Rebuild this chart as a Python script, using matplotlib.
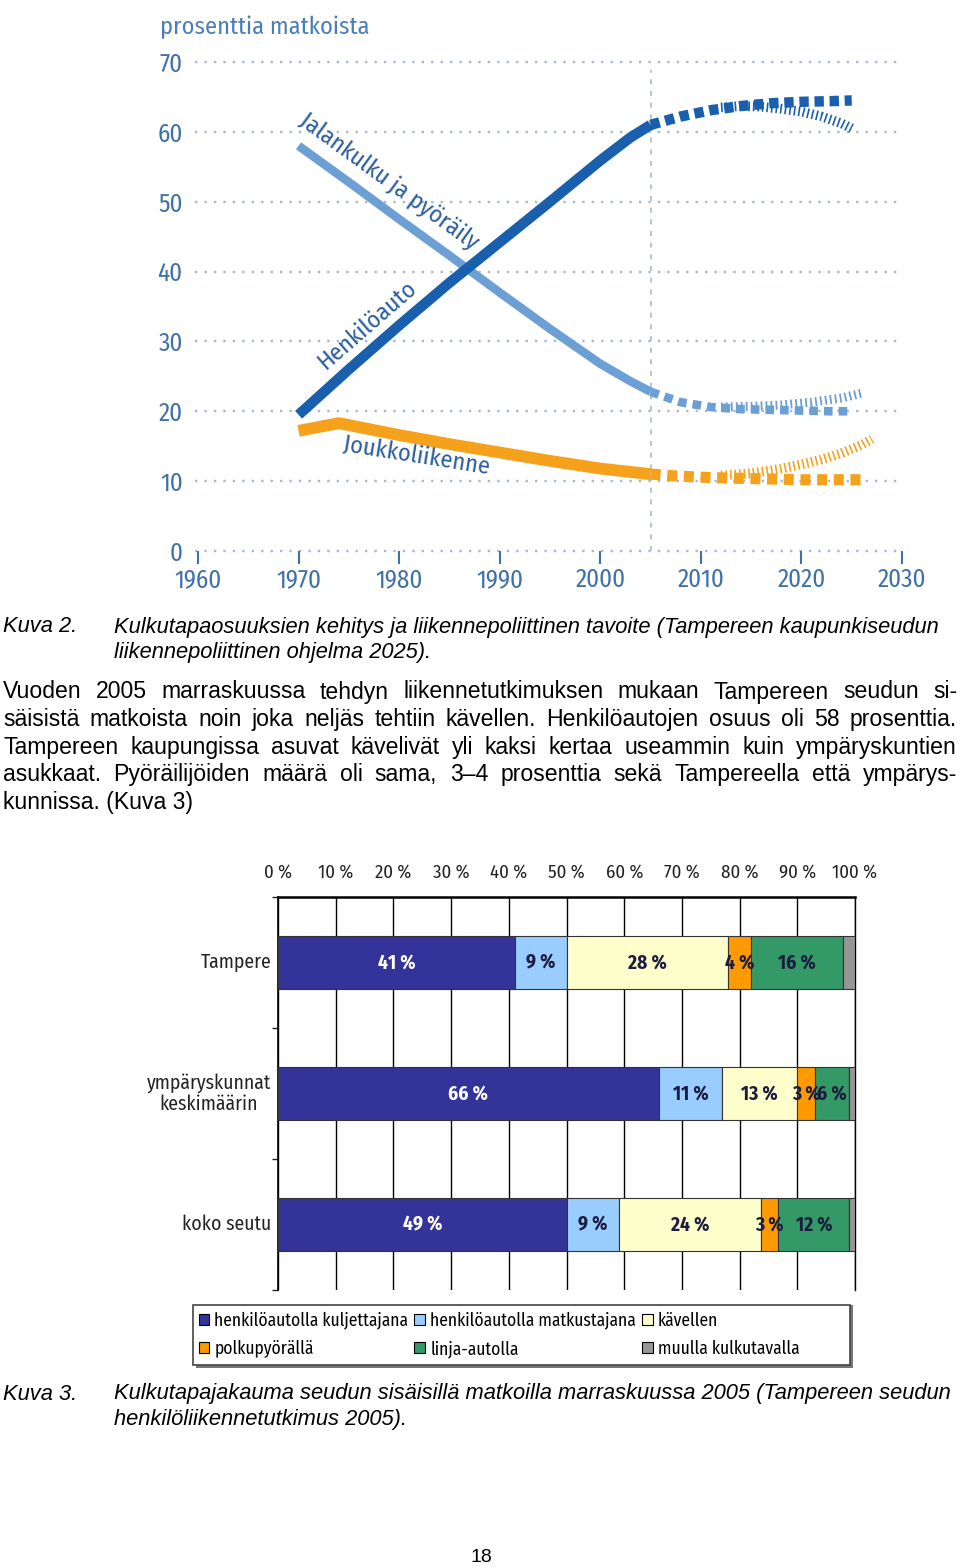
import matplotlib
matplotlib.use('Agg')
import matplotlib.pyplot as plt
from matplotlib.patches import Rectangle, Patch
from matplotlib.font_manager import FontProperties

W, H = 960, 1568
fig = plt.figure(figsize=(W / 100, H / 100), dpi=100)
fig.patch.set_facecolor('white')


def fx(px):
    return px / W


def fy(py):
    return 1 - py / H


NARROW = ['Fira Sans Condensed', 'DejaVu Sans']
BODY = ['Liberation Sans', 'DejaVu Sans']
NK = dict(family=NARROW, fontstretch='condensed')

# ---------------- data: top chart ----------------
decade_ticks = [1960, 1970, 1980, 1990, 2000, 2010, 2020, 2030]
pct_ticks = [0, 10, 20, 30, 40, 50, 60, 70]

car_years = [1970, 1975, 1980, 1985, 1990, 1995, 2000, 2003, 2005]
car_vals = [19.5, 26.0, 32.3, 38.4, 44.2, 50.0, 55.9, 59.2, 61.0]
car_goal_years = [2005, 2008, 2011, 2014, 2017, 2020, 2023, 2025]
car_goal_vals = [61.0, 62.2, 63.1, 63.7, 64.1, 64.3, 64.4, 64.5]
car_alt_years = [2012, 2014, 2016, 2018, 2020, 2022, 2024, 2025]
car_alt_vals = [63.5, 63.7, 63.6, 63.3, 62.9, 62.2, 61.2, 60.5]

walk_years = [1970, 1975, 1980, 1985, 1990, 1995, 2000, 2003, 2005]
walk_vals = [58.0, 52.8, 47.5, 42.3, 37.0, 31.8, 26.8, 24.3, 22.8]
walk_goal_years = [2005, 2008, 2011, 2014, 2017, 2020, 2023, 2025]
walk_goal_vals = [22.8, 21.3, 20.6, 20.3, 20.2, 20.1, 20.0, 20.0]
walk_alt_years = [2012, 2015, 2018, 2021, 2024, 2026]
walk_alt_vals = [20.6, 20.7, 20.9, 21.3, 21.9, 22.6]

pt_years = [1970, 1974, 1980, 1985, 1990, 1995, 2000, 2005]
pt_vals = [17.2, 18.3, 16.6, 15.3, 14.1, 12.9, 11.8, 11.0]
pt_goal_years = [2005, 2008, 2011, 2014, 2017, 2020, 2023, 2026]
pt_goal_vals = [11.0, 10.7, 10.5, 10.4, 10.3, 10.2, 10.2, 10.2]
pt_alt_years = [2012, 2015, 2018, 2020, 2022, 2024, 2026, 2027]
pt_alt_vals = [10.8, 11.1, 11.8, 12.4, 13.1, 14.0, 15.2, 16.0]

series_names = ['Jalankulku ja pyöräily', 'Henkilöauto', 'Joukkoliikenne']
y_title = 'prosenttia matkoista'

# ---------------- data: bar chart ----------------
categories = ['Tampere', 'ympäryskunnat\nkeskimäärin', 'koko seutu']
mode_names = ['henkilöautolla kuljettajana', 'henkilöautolla matkustajana', 'kävellen',
              'polkupyörällä', 'linja-autolla', 'muulla kulkutavalla']
driver = [41, 66, 49]
passenger = [9, 11, 9]
walking = [28, 13, 24]
cycling = [4, 3, 3]
bus = [16, 6, 12]
other = [2, 1, 1]
pct_axis_ticks = [0, 10, 20, 30, 40, 50, 60, 70, 80, 90, 100]

# ---------------- text ----------------
caption2_label = 'Kuva 2.'
caption2_lines = ['Kulkutapaosuuksien kehitys ja liikennepoliittinen tavoite (Tampereen kaupunkiseudun',
                  'liikennepoliittinen ohjelma 2025).']
paragraph_lines = [
    'Vuoden 2005 marraskuussa tehdyn liikennetutkimuksen mukaan Tampereen seudun si-',
    'säisistä matkoista noin joka neljäs tehtiin kävellen. Henkilöautojen osuus oli 58 prosenttia.',
    'Tampereen kaupungissa asuvat kävelivät yli kaksi kertaa useammin kuin ympäryskuntien',
    'asukkaat. Pyöräilijöiden määrä oli sama, 3–4 prosenttia sekä Tampereella että ympärys-',
    'kunnissa. (Kuva 3)',
]
caption3_label = 'Kuva 3.'
caption3_lines = ['Kulkutapajakauma seudun sisäisillä matkoilla marraskuussa 2005 (Tampereen seudun',
                  'henkilöliikennetutkimus 2005).']
page_number = '18'

# ================= top chart =================
DARK = '#1a5fad'
LIGHT = '#6c9fd3'
ORANGE = '#f6a11c'
GRID = '#a9b9cc'
TICKC = '#3f70a6'

ax1 = fig.add_axes([fx(198), fy(551), fx(902) - fx(198), fy(62) - fy(551)])
ax1.set_xlim(1960, 2030)
ax1.set_ylim(0, 70)
for s in ax1.spines.values():
    s.set_visible(False)
for v in pct_ticks:
    ax1.plot([1959.7, 2030], [v, v], linestyle=(0, (1, 3)), color=GRID, lw=1.7, clip_on=False, zorder=1)
ax1.plot([2005, 2005], [0, 68.8], linestyle=(0, (3, 4)), color=GRID, lw=1.2, zorder=1)

ax1.set_yticks(pct_ticks)
ax1.set_yticklabels([str(v) for v in pct_ticks], fontsize=18, color=TICKC, **NK)
ax1.tick_params(axis='y', length=0, pad=11)
ax1.set_xticks(decade_ticks)
ax1.set_xticklabels([str(v) for v in decade_ticks], fontsize=18, color=TICKC, **NK)
ax1.tick_params(axis='x', length=9, width=1.5, color=TICKC, direction='out', pad=3)

# historical lines
ax1.plot(walk_years, walk_vals, color=LIGHT, lw=6.2, solid_capstyle='butt', zorder=3)
ax1.plot(car_years, car_vals, color=DARK, lw=7.5, solid_capstyle='butt', zorder=4)
ax1.plot(pt_years, pt_vals, color=ORANGE, lw=8.5, solid_capstyle='butt', zorder=3)

# goal lines (square dashes)
ax1.plot(car_goal_years, car_goal_vals, color=DARK, lw=7.5, dashes=(0.9, 0.55), dash_capstyle='butt', zorder=4)
ax1.plot(walk_goal_years, walk_goal_vals, color=LIGHT, lw=6.2, dashes=(1.0, 0.7), dash_capstyle='butt', zorder=3)
ax1.plot(pt_goal_years, pt_goal_vals, color=ORANGE, lw=8.0, dashes=(0.9, 0.6), dash_capstyle='butt', zorder=3)
# alternative (hatched)
ax1.plot(car_alt_years, car_alt_vals, color=DARK, lw=7.0, dashes=(0.17, 0.3), dash_capstyle='butt', zorder=4)
ax1.plot(walk_alt_years, walk_alt_vals, color=LIGHT, lw=6.5, dashes=(0.2, 0.35), dash_capstyle='butt', zorder=3)
ax1.plot(pt_alt_years, pt_alt_vals, color=ORANGE, lw=7.0, dashes=(0.17, 0.3), dash_capstyle='butt', zorder=3)

LBL = '#2c5e9e'
ax1.text(1979.0, 52.8, series_names[0], rotation=-36, rotation_mode='anchor', ha='center', va='center',
         fontsize=17.5, color=LBL, **NK)
ax1.text(1976.9, 32.4, series_names[1], rotation=41, rotation_mode='anchor', ha='center', va='center',
         fontsize=17.5, color=LBL, **NK)
ax1.text(1981.7, 13.6, series_names[2], rotation=-9, rotation_mode='anchor', ha='center', va='center',
         fontsize=17.5, color=LBL, **NK)
fig.text(fx(160), fy(27), y_title, ha='left', va='center', fontsize=17.5, color='#4a7db8', **NK)

# ================= text helpers =================
renderer = fig.canvas.get_renderer()


def text_width(s, **kw):
    t = fig.text(0, 0, s, **kw)
    w = t.get_window_extent(renderer).width
    t.remove()
    return w


def justify(line, x0, x1, ypx, **kw):
    words = line.split(' ')
    widths = [text_width(w, **kw) for w in words]
    gap = (x1 - x0 - sum(widths)) / (len(words) - 1)
    x = x0
    for w, wd in zip(words, widths):
        fig.text(fx(x), fy(ypx), w, ha='left', va='center', **kw)
        x += wd + gap


cap_kw = dict(family=BODY, fontsize=15.75, style='italic', color='black')
body_kw = dict(family=BODY, fontsize=16.6, color='black')

fig.text(fx(3), fy(627), caption2_label, ha='left', va='center', **cap_kw)
for i, line in enumerate(caption2_lines):
    fig.text(fx(114), fy(627 + 25 * i), line, ha='left', va='center', **cap_kw)

for i, line in enumerate(paragraph_lines):
    ypx = 692 + 27.6 * i
    if i < len(paragraph_lines) - 1:
        justify(line, 3, 957, ypx, **body_kw)
    else:
        fig.text(fx(3), fy(ypx), line, ha='left', va='center', **body_kw)

fig.text(fx(3), fy(1394), caption3_label, ha='left', va='center', **cap_kw)
for i, line in enumerate(caption3_lines):
    fig.text(fx(114), fy(1394 + 25 * i), line, ha='left', va='center', **cap_kw)

fig.text(fx(481), fy(1557), page_number, ha='center', va='center', family=BODY, fontsize=14)

# ================= bar chart =================
COLORS = ['#333399', '#99ccff', '#ffffcc', '#ff9900', '#339966', '#969696']
series = [driver, passenger, walking, cycling, bus, other]
totals = [sum(s[i] for s in series) for i in range(len(categories))]

ax2 = fig.add_axes([fx(278), fy(1290), fx(855) - fx(278), fy(897) - fy(1290)])
ax2.set_xlim(0, 100)
ax2.set_ylim(2.5, -0.5)
ypos = list(range(len(categories)))
lefts = [0.0] * len(categories)
for k, (vals, col) in enumerate(zip(series, COLORS)):
    widths = [v / t * 100 for v, t in zip(vals, totals)]
    ax2.barh(ypos, widths, left=lefts, height=0.405, color=col, edgecolor='#333333', linewidth=0.8,
             zorder=3, label=mode_names[k])
    if k < 5:
        for yy, l, wdt, v in zip(ypos, lefts, widths, vals):
            ax2.text(l + wdt / 2, yy, f'{v} %', ha='center', va='center', fontsize=14,
                     fontweight='bold', color='white' if k == 0 else '#1c1c40', zorder=5, **NK)
    lefts = [l + w for l, w in zip(lefts, widths)]

ax2.xaxis.tick_top()
ax2.set_xticks(pct_axis_ticks)
ax2.set_xticklabels([f'{v} %' for v in pct_axis_ticks], fontsize=13.5, color='#222222', **NK)
ax2.tick_params(axis='x', length=0, pad=11)
ax2.grid(axis='x', color='black', lw=1.0, zorder=1)
ax2.set_yticks([-0.5, 0.5, 1.5, 2.5])
ax2.set_yticklabels([])
ax2.tick_params(axis='y', length=4, width=1, direction='out', color='#222222')
ax2.spines['bottom'].set_visible(False)
ax2.spines['right'].set_linewidth(1.0)
ax2.spines['top'].set_linewidth(1.8)
ax2.spines['left'].set_linewidth(1.2)
for yy, cat in zip(ypos, categories):
    ax2.text(-1.2, yy, cat, ha='right', va='center', multialignment='center', fontsize=14.2,
             color='#222222', linespacing=1.1, **NK)

# legend frame with shadow
fig.patches.append(Rectangle((fx(196), fy(1368)), fx(853) - fx(196), fy(1305) - fy(1368),
                             transform=fig.transFigure, facecolor='#777777', edgecolor='none', zorder=0))
fig.patches.append(Rectangle((fx(193), fy(1365)), fx(850) - fx(193), fy(1305) - fy(1365),
                             transform=fig.transFigure, facecolor='white', edgecolor='#444444', lw=1.2, zorder=1))
order = [0, 3, 1, 4, 2, 5]
leg_handles = [Patch(facecolor=COLORS[i], edgecolor='black', lw=0.8) for i in order]
fig.legend(leg_handles, [mode_names[i] for i in order], ncol=3, loc='upper left',
           bbox_to_anchor=(fx(195), fy(1308)), frameon=False,
           prop=FontProperties(family=NARROW, stretch='condensed', size=12.6),
           handlelength=0.6, handleheight=0.6, handletextpad=0.3, columnspacing=0.35,
           labelspacing=0.6, borderaxespad=0, borderpad=0.2)

fig.savefig('out.png', dpi=100, facecolor='white')
